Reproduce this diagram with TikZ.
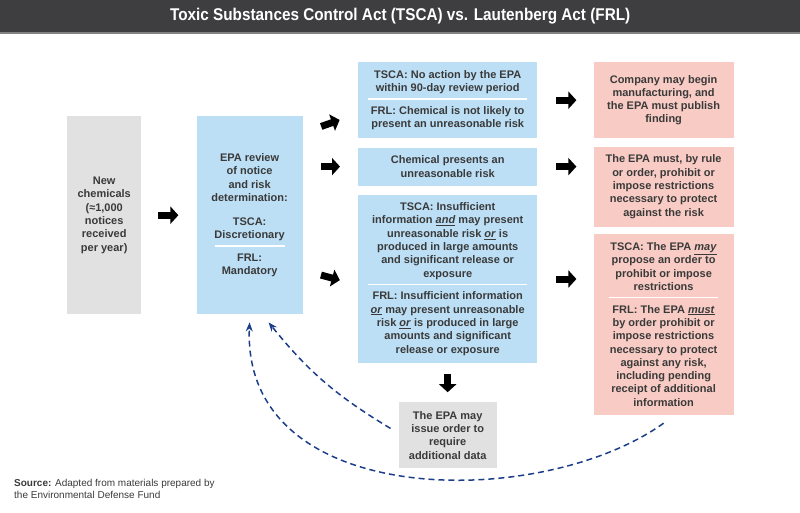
\documentclass[tikz,border=0pt]{standalone}
\usepackage{fontspec}
\setmainfont{Liberation Sans}
\newfontfamily\titlefont[FakeStretch=0.9]{Liberation Sans}
\usetikzlibrary{arrows.meta, positioning}
\definecolor{barGray}{RGB}{62,62,64}
\definecolor{ruleGray}{RGB}{130,130,130}
\definecolor{boxGray}{RGB}{225,225,225}
\definecolor{boxBlue}{RGB}{188,223,245}
\definecolor{boxPink}{RGB}{248,204,196}
\definecolor{txtGray}{RGB}{58,58,58}
\definecolor{loopBlue}{RGB}{28,62,138}
\newcommand{\sepline}[1]{\\[-5.4pt]{\color{white}\rule{#1}{1.4pt}}\\[1.5pt]}
\newcommand{\ulit}[1]{\underline{\textit{#1}}}

\begin{document}
\begin{tikzpicture}[x=1pt, y=-1pt,
		node distance=9pt and 56pt,
		m/.style={align=center, text=txtGray, font=\bfseries\fontsize{11}{13.3}\selectfont, minimum width=179pt},
		g/.style={m, fill=boxGray},
		b/.style={m, fill=boxBlue},
		p/.style={m, fill=boxPink, minimum width=140pt},
		arr/.style={line width=7pt, -{Triangle[length=8pt,width=17pt]}},
		back/.style={draw=loopBlue, line width=1.5pt, dash pattern=on 6pt off 4pt, -{Stealth[length=9pt,width=7pt]}}
		]
		\useasboundingbox (0,0) rectangle (800,512);
		\node[fill=barGray, anchor=north west, minimum width=800pt, minimum height=32pt, text=white, font=\titlefont\bfseries\fontsize{17}{19}\selectfont] (title) at (0,0) {Toxic Substances Control Act (TSCA) vs. Lautenberg Act (FRL)};
		\draw[ruleGray, line width=2pt] ([yshift=-1pt]title.south west) -- ([yshift=-1pt]title.south east);
		
		\node[g, anchor=north west, minimum width=74pt, minimum height=198pt] (new) at (67,116) {New\\chemicals\\(≈1,000\\notices\\received\\per year)};
		\node[b, right=55pt of new, minimum width=106pt, minimum height=198pt] (epa) {EPA review\\of notice\\and risk\\determination:\\[10.7pt]TSCA:\\Discretionary\sepline{70pt}FRL:\\Mandatory};
		
		\node[b, anchor=north west, minimum height=76pt] (b1) at (358,62) {TSCA: No action by the EPA\\within 90-day review period\sepline{159pt}FRL: Chemical is not likely to\\present an unreasonable risk};
		\node[b, below=of b1, minimum height=38pt] (b2) {Chemical presents an\\unreasonable risk};
		\node[b, below=of b2, minimum height=168pt] (b3) {TSCA: Insufficient\\information \ulit{and} may present\\unreasonable risk \ulit{or} is\\produced in large amounts\\and significant release or\\exposure\sepline{159pt}FRL: Insufficient information\\\ulit{or} may present unreasonable\\risk \ulit{or} is produced in large\\amounts and significant\\release or exposure};
		\node[g, below=39pt of b3, minimum width=98pt, minimum height=66pt] (data) {The EPA may\\issue order to\\require\\additional data};
		
		\node[p, right=of b1, minimum height=76pt] (p1) {Company may begin\\manufacturing, and\\the EPA must publish\\finding};
		\node[p, below=8pt of p1, minimum height=80pt] (p2) {The EPA must, by rule\\or order, prohibit or\\impose restrictions\\necessary to protect\\against the risk};
		\node[p, below=7pt of p2, minimum height=181pt] (p3) {TSCA: The EPA \ulit{may}\\propose an order to\\prohibit or impose\\restrictions\sepline{109pt}FRL: The EPA \ulit{must}\\by order prohibit or\\impose restrictions\\necessary to protect\\against any risk,\\including pending\\receipt of additional\\information};
		
		\node[anchor=north west, align=left, inner sep=0pt, text=txtGray, font=\fontsize{10}{12}\selectfont] (src) at (14,479) {\textbf{Source:} Adapted from materials prepared by\\the Environmental Defense Fund};
		
		\draw[arr, shorten <=17pt, shorten >=18pt] (new) -- (epa);
		\draw[arr, shorten <=19.5pt, shorten >=19.5pt] ([yshift=-17pt]epa.north east) -- ([yshift=25pt]b1.south west);
		\draw[arr, shorten <=18pt, shorten >=18pt] (epa.east |- b2.west) -- (b2.west);
		\draw[arr, shorten <=18.8pt, shorten >=18.8pt] ([yshift=-55pt]epa.east) -- ([yshift=-6pt]b3.west);
		\draw[arr, shorten <=19pt, shorten >=17pt] (b1) -- (p1);
		\draw[arr, shorten <=19pt, shorten >=17pt] (b2.east) -- (b2.east -| p2.west);
		\draw[arr, shorten <=19pt, shorten >=17pt] (b3.east) -- (b3.east -| p3.west);
		\draw[arr, shorten <=11pt, shorten >=10pt] (b3) -- (data);
		
		\draw[back] ([yshift=-8pt]p3.south) .. controls +(-123,88) and +(-8,188) .. ([yshift=-8pt]epa.south);
		\draw[back] ([xshift=-8pt,yshift=7pt]data.west) to[bend left=10] ([xshift=19pt,yshift=-8pt]epa.south);
	\end{tikzpicture}
\end{document}
